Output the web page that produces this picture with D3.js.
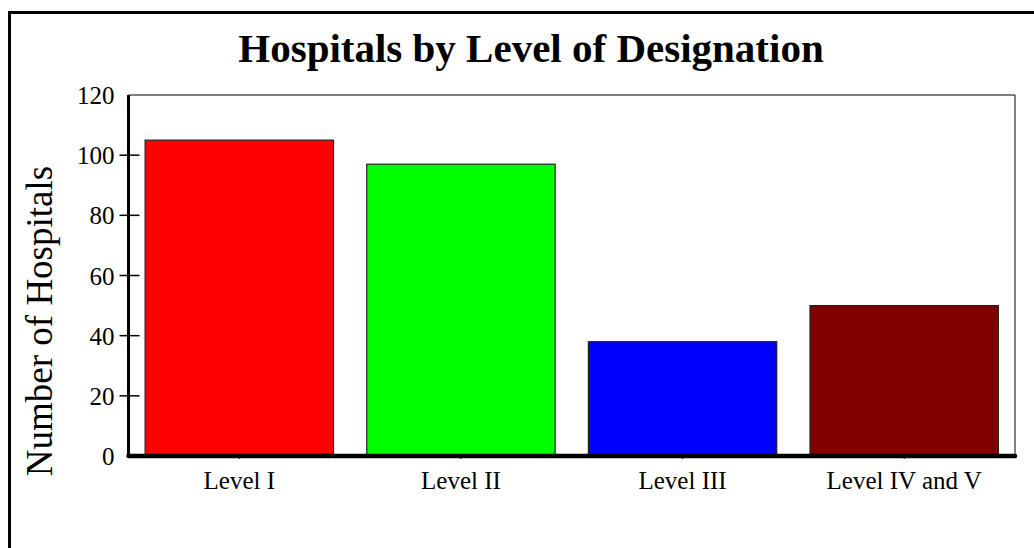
<!DOCTYPE html>
<html><head><meta charset="utf-8">
<script src="https://cdn.jsdelivr.net/npm/d3@7/dist/d3.min.js"></script>
<style>html,body{margin:0;padding:0;background:#fff;}svg{display:block;}</style>
</head><body>
<script>
const categories = ["Level I", "Level II", "Level III", "Level IV and V"];
const values = [105, 97, 38, 50];
const colors = ["#ff0000", "#00ff00", "#0000ff", "#800000"];
const yTicks = [0, 20, 40, 60, 80, 100, 120];
const title = "Hospitals by Level of Designation";
const yTitle = "Number of Hospitals";

const W = 1034, H = 548;
const plot = {left: 128.5, right: 1015, top: 95, bottom: 456};
const font = "'Liberation Serif','Times New Roman',serif";

const svg = d3.select("body").append("svg").attr("width", W).attr("height", H);

// outer frame (left and top edges visible)
svg.append("path").attr("d", `M9.5,${H+5}V12.5H${W+5}`)
  .attr("fill", "none").attr("stroke", "#000").attr("stroke-width", 3);

const x = d3.scaleBand().domain(categories).range([plot.left, plot.right])
  .paddingInner(0.15).paddingOuter(0.075);
const y = d3.scaleLinear().domain([0, 120]).range([plot.bottom, plot.top]);

// plot frame top and right
svg.append("path").attr("d", `M${plot.left},${plot.top}H${plot.right}V${plot.bottom}`)
  .attr("fill", "none").attr("stroke", "#000").attr("stroke-width", 1);

// bars
svg.selectAll("rect.bar").data(categories).join("rect").attr("class", "bar")
  .attr("x", d => x(d)).attr("width", x.bandwidth())
  .attr("y", (d, i) => y(values[i])).attr("height", (d, i) => y(0) - y(values[i]))
  .attr("fill", (d, i) => colors[i]).attr("stroke", "#222").attr("stroke-width", 1.2);

// y axis
const yAxis = d3.axisLeft(y).tickValues(yTicks).tickSize(0).tickPadding(14);
const gy = svg.append("g").attr("transform", `translate(${plot.left},0)`).call(yAxis);
gy.select(".domain").remove();
gy.selectAll("text").attr("font-family", font).attr("font-size", 25).attr("fill", "#000")
  .attr("dy", "0.34em");
svg.selectAll("line.ytick").data(yTicks.filter(d => d !== 0 && d !== 120)).join("line")
  .attr("class", "ytick")
  .attr("x1", plot.left - 9).attr("x2", plot.left + 11)
  .attr("y1", d => y(d)).attr("y2", d => y(d))
  .attr("stroke", "#000").attr("stroke-width", 1.5);
svg.append("line").attr("x1", plot.left).attr("x2", plot.left)
  .attr("y1", plot.top).attr("y2", plot.bottom).attr("stroke", "#000").attr("stroke-width", 3);

// x axis
const xAxis = d3.axisBottom(x).tickSize(3).tickPadding(6);
const gx = svg.append("g").attr("transform", `translate(0,${plot.bottom})`).call(xAxis);
gx.select(".domain").remove();
gx.selectAll(".tick line").attr("stroke", "#000").attr("stroke-width", 1);
gx.selectAll("text").attr("font-family", font).attr("font-size", 25).attr("fill", "#000")
  .attr("dy", "0.95em");
svg.append("line").attr("x1", plot.left).attr("x2", plot.right)
  .attr("y1", plot.bottom).attr("y2", plot.bottom)
  .attr("stroke", "#000").attr("stroke-width", 4.5).attr("stroke-linecap", "round");

// title
svg.append("text").attr("x", 531).attr("y", 62).attr("text-anchor", "middle")
  .attr("font-family", font).attr("font-size", 41).attr("font-weight", "bold").text(title);

// y title
svg.append("text").attr("transform", "translate(52,321) rotate(-90)")
  .attr("text-anchor", "middle").attr("font-family", font).attr("font-size", 37).text(yTitle);
</script>
</body></html>
